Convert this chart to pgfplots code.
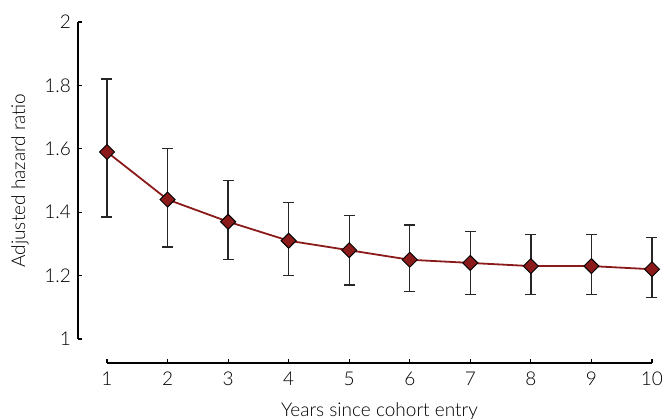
\documentclass[border=0pt]{standalone}
\usepackage{fontspec}
\setmainfont{Lato}[UprightFont={* Light}]
\usepackage{pgfplots}
\pgfplotsset{compat=1.18}
\usepackage{pgfplotstable}

\definecolor{hrred}{HTML}{8B1A1A}

\pgfplotstableread{
year hr lo hi
1 1.59 1.385 1.82
2 1.44 1.29 1.60
3 1.37 1.25 1.50
4 1.31 1.20 1.43
5 1.28 1.17 1.39
6 1.25 1.15 1.36
7 1.24 1.14 1.34
8 1.23 1.14 1.33
9 1.23 1.14 1.33
10 1.22 1.13 1.32
}\hrdata

\pgfplotstablecreatecol[expr={\thisrow{hi}-\thisrow{hr}}]{ep}\hrdata
\pgfplotstablecreatecol[expr={\thisrow{hr}-\thisrow{lo}}]{em}\hrdata

\begin{document}
\begin{tikzpicture}
\begin{axis}[
scale only axis,
width=272.5pt, height=158.5pt,
xmin=1, xmax=10, ymin=1, ymax=2,
axis lines=left,
axis line style={-, black, line width=0.6pt},
axis x line shift=12pt,
axis y line shift=14.5pt,
xtick={1,...,10},
ytick={1,1.2,1.4,1.6,1.8,2},
yticklabels={1,1.2,1.4,1.6,1.8,2},
tick align=inside,
major tick length=2pt,
tick style={black, line width=0.6pt},
/pgf/number format/assume math mode=true,
ticklabel style={font=\fontsize{9.5}{11}\selectfont},
xticklabel style={yshift=-1pt},
label style={font=\fontsize{9.5}{11}\selectfont},
xlabel={Years since cohort entry},
ylabel={Adjusted hazard ratio},
xlabel shift=1.5pt,
ylabel shift=1pt,
clip=false,
]
\addplot[hrred, line width=0.9pt, mark=square*,
  mark size=2.65pt,
  mark options={rotate=45, fill=hrred, draw=black, line width=0.5pt},
  error bars/.cd, y dir=both, y explicit,
  error bar style={black!85, line width=0.65pt},
  error mark options={black!85, line width=0.65pt, mark size=2.75pt, rotate=90}]
  table[x=year, y=hr, y error plus=ep, y error minus=em] {\hrdata};
\coordinate (O) at (rel axis cs:0,0);
\end{axis}
\pgfresetboundingbox
\path ([shift={(-53.5pt,-39.5pt)}]O) rectangle ++(332pt,209pt);
\end{tikzpicture}
\end{document}
